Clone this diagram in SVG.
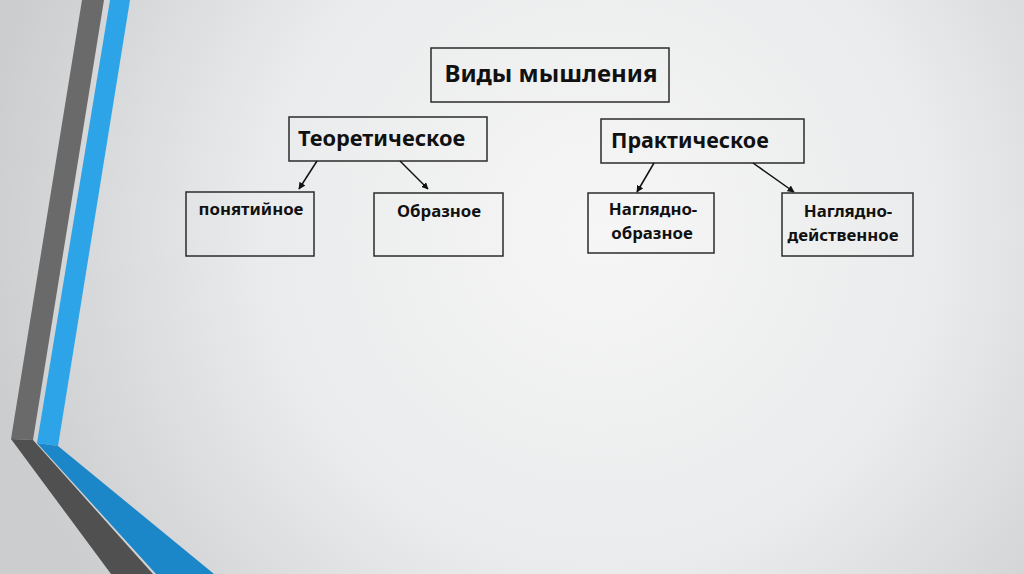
<svg xmlns="http://www.w3.org/2000/svg" width="1024" height="574" viewBox="0 0 1024 574">
<defs>
<radialGradient id="bg" cx="600" cy="230" r="620" gradientUnits="userSpaceOnUse">
<stop offset="0" stop-color="#f6f6f6"/>
<stop offset="0.55" stop-color="#eaebec"/>
<stop offset="1" stop-color="#cbcdcf"/>
</radialGradient>
<marker id="ah" viewBox="0 0 10 10" refX="9" refY="5" markerWidth="7" markerHeight="7" markerUnits="userSpaceOnUse" orient="auto">
<path d="M0,0 L10,5 L0,10 z" fill="#111"/>
</marker>
<style>
.box{fill:none;stroke:#2b2b2b;stroke-width:1.5}
.t{font-family:"Noto Sans","Open Sans","DejaVu Sans",sans-serif;font-weight:bold;fill:#111}
.s{font-size:16.8px}
.conn line{stroke:#111;stroke-width:1.5;marker-end:url(#ah)}
</style>
</defs>
<rect width="1024" height="574" fill="url(#bg)"/>
<g id="decor">
<polygon points="82,0 104,0 33,440 11,439" fill="#6a6a6a"/>
<polygon points="11,439 33,440 153,574 111,574" fill="#505050"/>
<polygon points="110,0 130,0 58,446 37,443" fill="#2ea4e8"/>
<polygon points="37,443 58,446 214,574 156,574" fill="#1b87c9"/>
</g>
<g id="n-root"><rect class="box" x="431" y="48" width="238" height="54"/><text class="t" x="551" y="82" font-size="24" text-anchor="middle">Виды мышления</text></g>
<g id="n-theor"><rect class="box" x="289" y="117" width="198" height="44"/><text class="t" x="298" y="146" font-size="21.8">Теоретическое</text></g>
<g id="n-pract"><rect class="box" x="601" y="119" width="203" height="44"/><text class="t" x="611" y="148" font-size="21.5">Практическое</text></g>
<g id="n-concept"><rect class="box" x="186" y="192" width="128" height="64"/><text class="t s" x="251" y="215" text-anchor="middle">понятийное</text></g>
<g id="n-obraz"><rect class="box" x="374" y="193" width="129" height="63"/><text class="t s" x="439" y="217" text-anchor="middle">Образное</text></g>
<g id="n-vo"><rect class="box" x="588" y="193" width="126" height="60"/><text class="t s" x="653" y="215" text-anchor="middle">Наглядно-</text><text class="t s" x="652" y="239" text-anchor="middle">образное</text></g>
<g id="n-vd"><rect class="box" x="782" y="193" width="131" height="63"/><text class="t s" x="848" y="217" text-anchor="middle">Наглядно-</text><text class="t s" x="843" y="241" text-anchor="middle">действенное</text></g>
<g class="conn" id="connectors">
<line x1="317" y1="161" x2="299" y2="189"/>
<line x1="400" y1="161" x2="428" y2="189"/>
<line x1="654" y1="163" x2="637" y2="192"/>
<line x1="753" y1="163" x2="794" y2="192"/>
</g>
</svg>
